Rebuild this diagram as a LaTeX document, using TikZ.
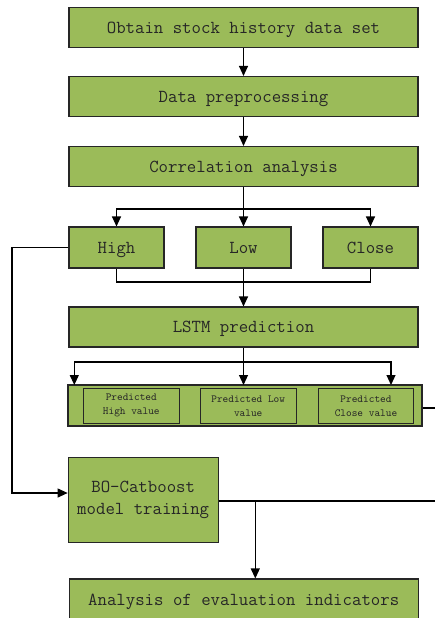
\documentclass[tikz,border=0pt]{standalone}
\usetikzlibrary{arrows.meta}
\definecolor{boxgreen}{HTML}{9BBB59}
\begin{document}
\begin{tikzpicture}[x=1pt,y=-1pt,
 box/.style={draw=black!85, fill=boxgreen, line width=1.1pt, inner sep=0pt,
   font=\ttfamily\fontsize{18.3}{22.5}\selectfont, text=black!85, align=center},
 one/.style={box, text height=11.2pt, text depth=0pt},
 smallbox/.style={box, font=\ttfamily\fontsize{10.8}{14}\selectfont},
 conn/.style={line width=1.1pt, draw=black},
 arr/.style={conn, -{Triangle[length=10pt,width=9pt]}}]
\useasboundingbox (0,0) rectangle (435,618);
\clip (0,0) rectangle (435,618);
\node[one, minimum width=349pt, minimum height=40pt] (b1) at (243.5,27.5) {Obtain stock history data set};
\node[one, minimum width=349pt, minimum height=40pt] (b2) at (243.5,96.5) {Data preprocessing};
\node[one, minimum width=349pt, minimum height=40pt] (b3) at (243.5,166.5) {Correlation analysis};
\node[one, minimum width=95pt, minimum height=41pt] (high) at (116.5,247.5) {High};
\node[one, minimum width=95pt, minimum height=41pt] (low) at (243.5,247.5) {Low};
\node[one, minimum width=95pt, minimum height=41pt] (close) at (370.5,247.5) {Close};
\node[one, minimum width=349pt, minimum height=40pt] (lstm) at (243.5,327) {LSTM prediction};
\node[box, minimum width=354pt, minimum height=41pt] (big) at (245,405.5) {};
\node[smallbox, minimum width=96pt, minimum height=35pt] (p1) at (131.3,405.8) {Predicted\\High value};
\node[smallbox, minimum width=96pt, minimum height=35pt] (p2) at (248.2,405.8) {Predicted Low\\value};
\node[smallbox, minimum width=95.4pt, minimum height=35pt] (p3) at (366,405.8) {Predicted\\Close value};
\node[box, minimum width=150pt, minimum height=85pt] (bo) at (143.2,500) {BO-Catboost\\model training};
\node[one, minimum width=349pt, minimum height=42pt] (ana) at (243.7,600) {Analysis of evaluation indicators};

\coordinate (s1) at (243.5,209);
\coordinate (j1) at (243.5,282);
\coordinate (s2) at (243.5,362);
\coordinate (t1) at (74.3,385);
\coordinate (t2) at (243.5,385);
\coordinate (t3) at (391,385);
\coordinate (e1) at (437,408);
\coordinate (l1) at (12,247.5);
\coordinate (l2) at (12,493);
\coordinate (e2) at (437,501);
\coordinate (br) at (255.3,501);

\draw[arr] (b1.south) -- (b2.north);
\draw[arr] (b2.south) -- (b3.north);
\draw[conn] (b3.south) -- (s1);
\draw[arr] (s1) -| (high.north);
\draw[arr] (s1) -| (close.north);
\draw[arr] (s1) -- (low.north);
\draw[conn] (high.south) |- (j1);
\draw[conn] (close.south) |- (j1);
\draw[arr] (low.south) -- (lstm.north);
\draw[conn] (lstm.south) -- (s2);
\draw[arr] (s2) -| (t1);
\draw[arr] (s2) -| (t3);
\draw[arr] (s2) -- (t2);
\draw[conn] (big.east |- e1) -- (e1);
\draw[arr] (high.west) -- (l1) -- (l2) -- (l2 -| bo.west);
\draw[conn] (bo.east |- e2) -- (e2);
\draw[arr] (br) -- (br |- ana.north);
\end{tikzpicture}
\end{document}
